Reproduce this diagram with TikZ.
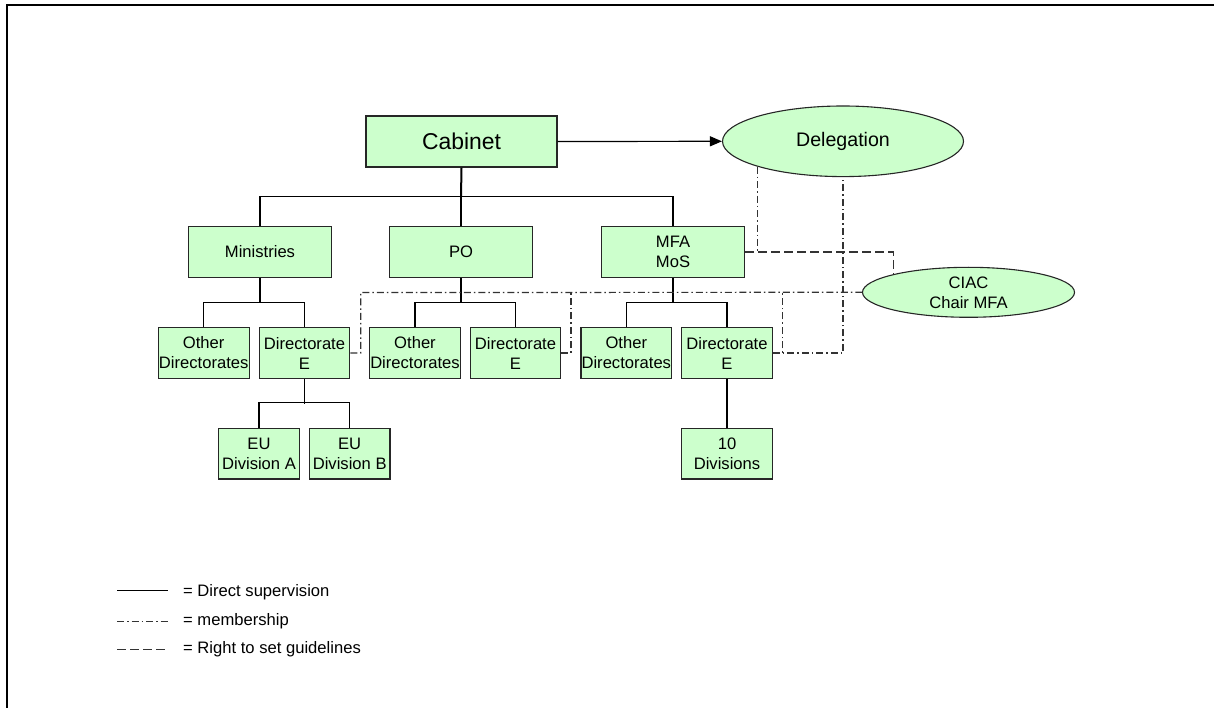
\documentclass[tikz,border=0pt]{standalone}
\usepackage{fontspec}
\setmainfont{Liberation Sans}
\usetikzlibrary{arrows.meta,shapes.geometric}
\definecolor{boxgreen}{HTML}{CCFFCC}

\begin{document}
\begin{tikzpicture}[x=1pt,y=-1pt,
  txt/.style={font=\fontsize{16.6}{20}\selectfont},
  box/.style={rectangle,draw=black!85,line width=1.1pt,fill=boxgreen,inner sep=0pt,
    align=center,txt,minimum height=50.6pt},
  widebox/.style={box,minimum width=143.5pt},
  dirbox/.style={box,minimum width=90.7pt},
  divbox/.style={box,minimum width=80.5pt},
  oval/.style={ellipse,draw=black!85,line width=1.1pt,fill=boxgreen,inner sep=0pt,align=center},
  supline/.style={line width=1.2pt},
  heavyline/.style={line width=2pt},
  member/.style={line width=1.2pt,draw=black!80,dash pattern=on 7pt off 3pt on 1.5pt off 3pt},
  guide/.style={line width=1.2pt,draw=black!80,dash pattern=on 9pt off 4pt},
]
\useasboundingbox (0,0) rectangle (1214,708);

% frame
\draw[line width=1.8pt] (7,708) -- (7,5) -- (1214,5);

% top level
\node[box,minimum width=191pt,minimum height=51pt,font=\fontsize{22.9}{26}\selectfont] (cab) at (461.5,141.5) {Cabinet};
\node[oval,minimum width=241pt,minimum height=70.6pt,font=\fontsize{19.6}{23}\selectfont] (del) at (843,141.3) {Delegation};
\node[oval,minimum width=212pt,minimum height=50pt,txt] (ciac) at (968.5,292.3) {CIAC\\Chair MFA};

% second level
\node[widebox] (min) at (260,252) {Ministries};
\node[widebox] (po)  at (461,252) {PO};
\node[widebox] (mfa) at (673,252) {MFA\\MoS};

% directorates
\node[dirbox] (od1) at (203.7,353) {Other\\Directorates};
\node[dirbox] (de1) at (304.5,353) {Directorate\\E};
\node[dirbox] (od2) at (415,353)   {Other\\Directorates};
\node[dirbox] (de2) at (515.5,353) {Directorate\\E};
\node[dirbox] (od3) at (626.3,353) {Other\\Directorates};
\node[dirbox] (de3) at (727,353)   {Directorate\\E};

% divisions
\node[divbox] (eua) at (259,453.7)   {EU\\Division A};
\node[divbox] (eub) at (349.7,453.7) {EU\\Division B};
\node[dirbox] (ten) at (727,453.7)   {10\\Divisions};

% direct supervision
\coordinate (bus) at (461,196.7);
\draw[heavyline] (cab.south) -- (bus);
\draw[supline] (min.north) |- (bus) -| (mfa.north);
\draw[supline] (po.north) -- (po.north |- bus);
\draw[-{Triangle[length=12pt,width=10pt]},supline] (cab.east) -- (del.west);

\draw[heavyline] (min.south) -- ++(0,25.4);
\draw[supline] (od1.north) -- ++(0,-25) -| (de1.north);
\draw[supline] (po.south) -- ++(0,25.4);
\draw[supline] (od2.north) -- ++(0,-25) -| (de2.north);
\draw[supline] (mfa.south) -- ++(0,25.4);
\draw[supline] (od3.north) -- ++(0,-25) -| (de3.north);

\draw[supline] (de1.south) -- ++(0,25);
\draw[supline] (eua.north) -- ++(0,-25) -| (eub.north);
\draw[supline] (de3.south) -- (ten.north);

% membership
\draw[member] (de1.east) -| (360.7,292.5) -- (ciac.west);
\draw[member] (de2.east) -| (571,292.5);
\draw[member] (de3.east) -| (782.7,292.5);
\draw[member] (de3.east) -| (del.south);
\draw[member] (del.south west) -- (del.south west |- mfa.east);

% right to set guidelines
\draw[guide] (mfa.east) -| (ciac.north west);

% legend
\coordinate (l1a) at (117,590.7); \coordinate (l1b) at (168,590.7);
\coordinate (l2a) at (117,621.7); \coordinate (l2b) at (168,621.7);
\coordinate (l3a) at (117,649.3); \coordinate (l3b) at (168,649.3);
\draw[supline] (l1a) -- (l1b);
\draw[member] (l2a) -- (l2b);
\draw[guide] (l3a) -- (l3b);
\node[txt,anchor=west,inner sep=0pt] (k1) at (183,592.5) {= Direct supervision};
\node[txt,anchor=west,inner sep=0pt] (k2) at (183,621.5) {= membership};
\node[txt,anchor=west,inner sep=0pt] (k3) at (183,649.5) {= Right to set guidelines};
\end{tikzpicture}
\end{document}
